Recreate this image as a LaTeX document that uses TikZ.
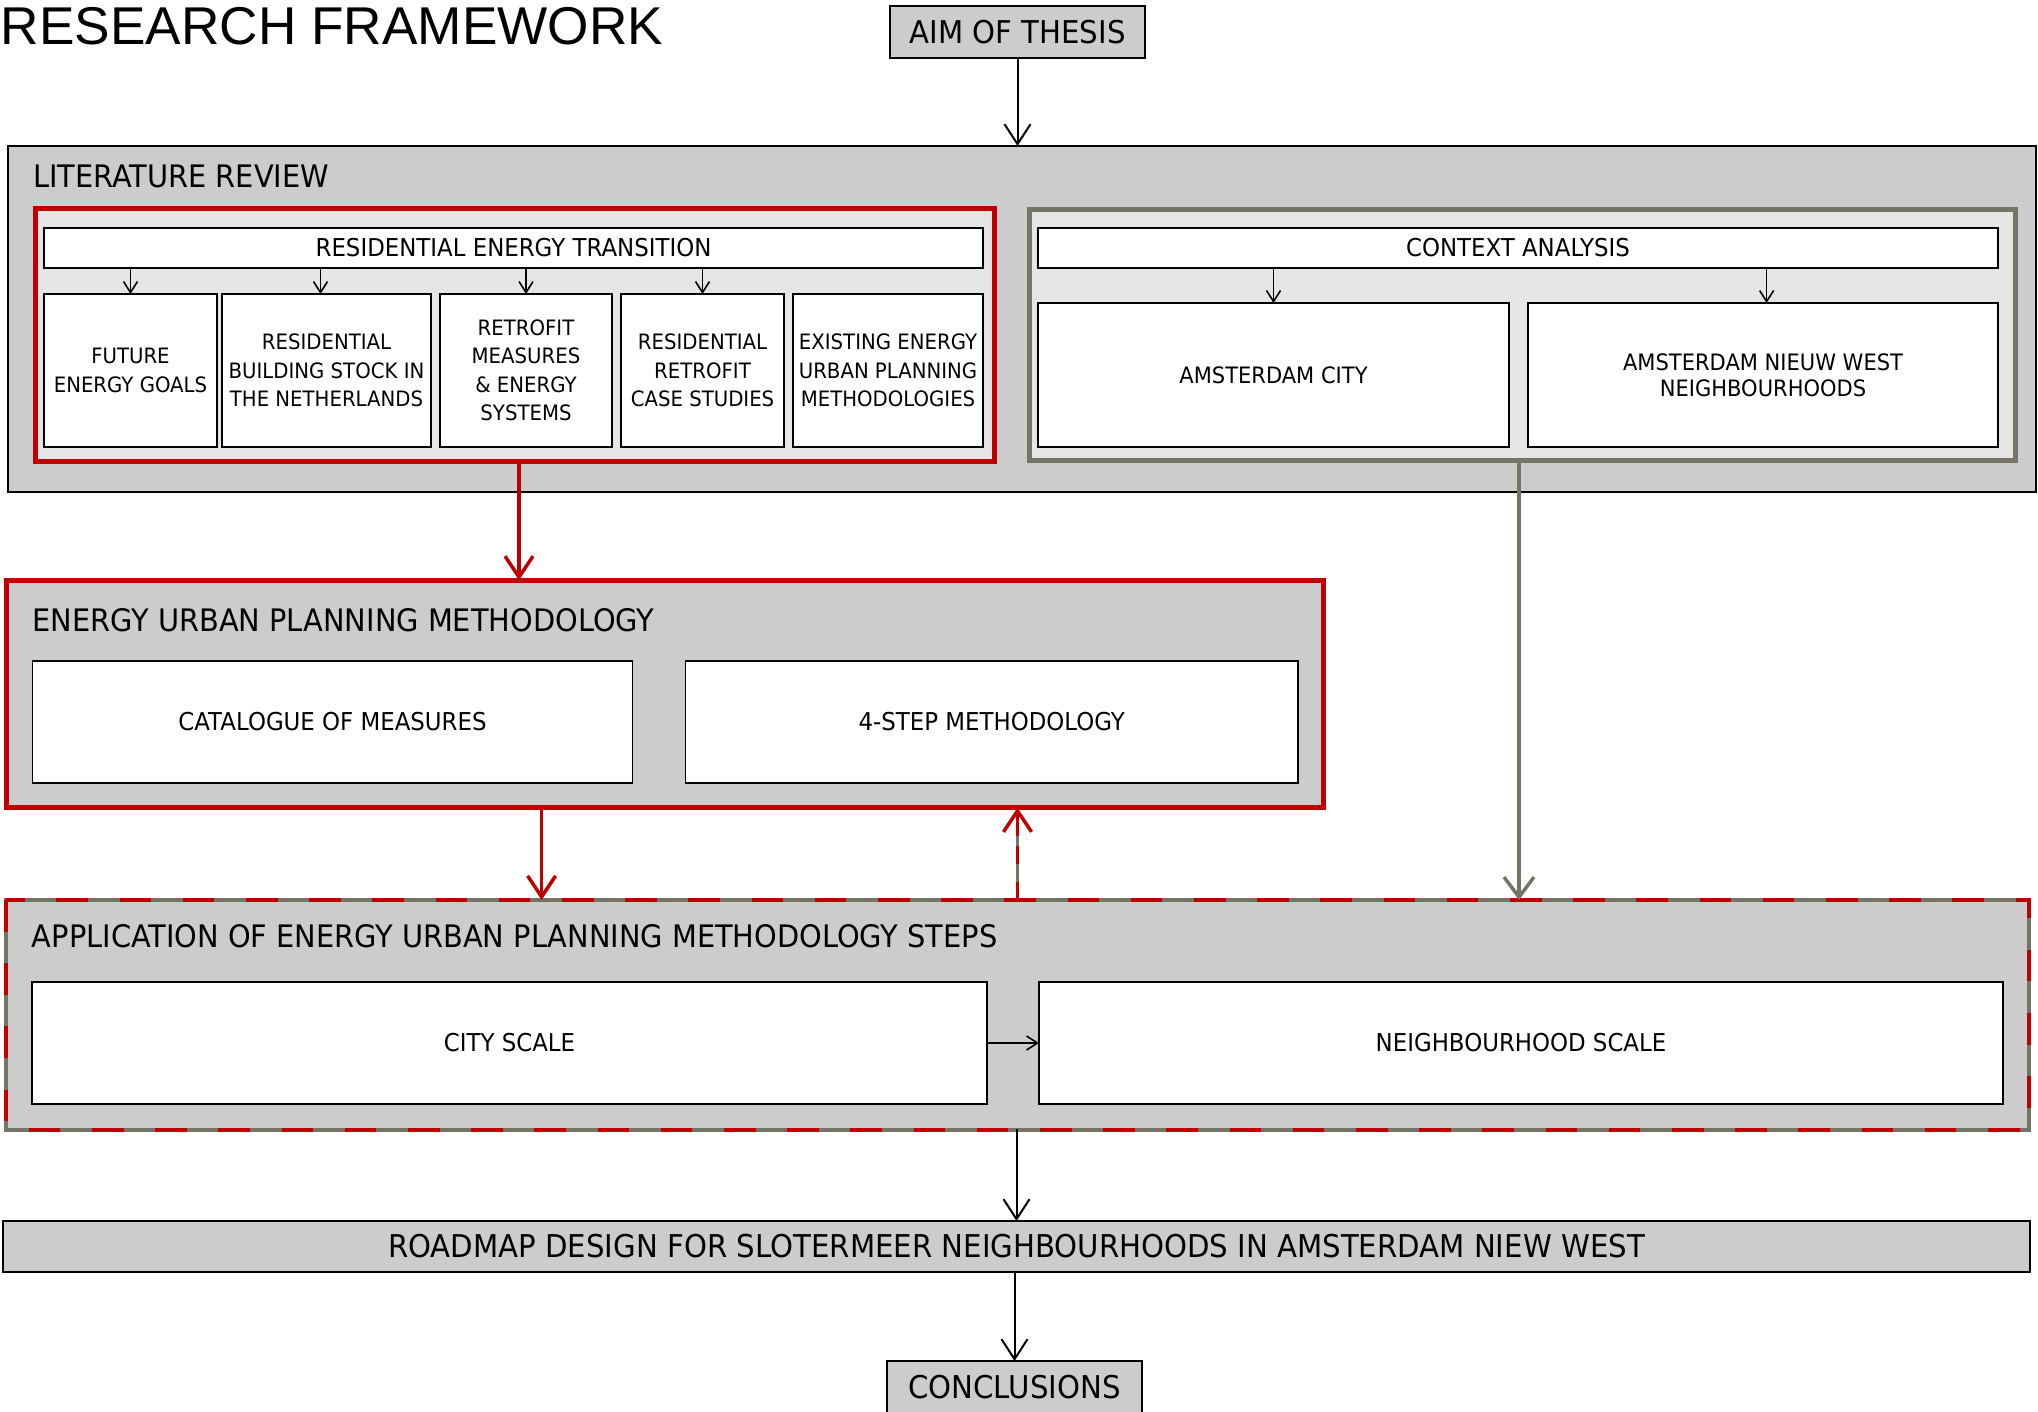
\documentclass[tikz,border=0pt]{standalone}
\usepackage{fontspec}
\setmainfont{DejaVu Sans}[FakeStretch=0.93]
\newfontfamily\titlefont{Liberation Sans}
\usetikzlibrary{arrows.meta,calc}
\definecolor{fwred}{RGB}{192,0,0}
\definecolor{fwgray}{RGB}{118,116,101}
\definecolor{boxgray}{RGB}{204,204,204}
\definecolor{paleg}{RGB}{229,229,229}
\newcommand\fsz[2]{\fontsize{#1}{#2}\selectfont}
\begin{document}
\begin{tikzpicture}[x=0.5pt,y=-0.5pt,
  every node/.style={inner sep=0pt,outer sep=0pt},
  rect/.style args={#1/#2/#3/#4}{minimum width={(#3-#1)*0.5pt},minimum height={(#4-#2)*0.5pt},at={({(#1+#3)/2},{(#2+#4)/2})}},
  graybox/.style={draw=black,line width=1pt,fill=boxgray,align=center},
  whitebox/.style={draw=black,line width=0.9pt,fill=white,align=center},
  redgroup/.style={draw=fwred,line width=2.35pt,fill=paleg},
  graygroup/.style={draw=fwgray,line width=2.35pt,fill=paleg},
  headtext/.style={anchor=base west,font=\fsz{15.5pt}{18pt}},
  midtext/.style={font=\fsz{12.3pt}{15pt}},
  subtext/.style={font=\fsz{10.6pt}{14.25pt}},
  ctxtext/.style={font=\fsz{11.3pt}{13pt}},
  bigtext/.style={font=\fsz{15.7pt}{18pt}},
  blackarrow/.style={draw=black,line width=1pt,-{Straight Barb[length=10pt,width=13pt]}},
  smallarrow/.style={draw=black,line width=0.8pt,-{Straight Barb[length=5.5pt,width=7pt]}},
  redarrow/.style={draw=fwred,line width=1.75pt,-{Straight Barb[length=10.5pt,width=14pt]}},
  grayarrow/.style={draw=fwgray,line width=1.75pt,-{Straight Barb[length=10pt,width=15pt]}},
]
\useasboundingbox (0,0) rectangle (2038,1412);

% title
\node[anchor=base west,font=\titlefont\fsz{26.6pt}{30pt}] (title) at (1,45) {RESEARCH FRAMEWORK};

% aim
\node[graybox,bigtext,rect=890/6/1145/58] (aim) {AIM OF THESIS};

% literature review
\node[graybox,rect=8/146/2036/492] (lit) {};
\node[headtext] (littitle) at (33,188) {LITERATURE REVIEW};

\node[redgroup,rect=35.3/208.3/994.7/461.7] (redgrp) {};
\node[whitebox,midtext,rect=44/228/983/268] (ret) {RESIDENTIAL ENERGY TRANSITION};
\node[whitebox,subtext,rect=44/294/217/447] (b1) {FUTURE\\ENERGY GOALS};
\node[whitebox,subtext,rect=222/294/431/447] (b2) {RESIDENTIAL\\BUILDING STOCK IN\\THE NETHERLANDS};
\node[whitebox,subtext,rect=440/294/612/447] (b3) {RETROFIT\\MEASURES\\\& ENERGY\\SYSTEMS};
\node[whitebox,subtext,rect=621/294/784/447] (b4) {RESIDENTIAL\\RETROFIT\\CASE STUDIES};
\node[whitebox,subtext,rect=793/294/983/447] (b5) {EXISTING ENERGY\\URBAN PLANNING\\METHODOLOGIES};
\foreach \b in {b1,b3,b4}
  \draw[smallarrow] (ret.south -| \b.north) -- (\b.north);
\draw[smallarrow] ([xshift=-3pt]ret.south -| b2.north) -- ([xshift=-3pt]b2.north);

\node[graygroup,rect=1029.3/209.3/2015.7/460.7] (ctxgrp) {};
\node[whitebox,midtext,rect=1038/228/1998/268] (ctx) {CONTEXT ANALYSIS};
\node[whitebox,ctxtext,rect=1038/303/1509/447] (ams) {AMSTERDAM CITY};
\node[whitebox,ctxtext,rect=1528/303/1998/447] (nw) {AMSTERDAM NIEUW WEST\\NEIGHBOURHOODS};
\draw[smallarrow] (ctx.south -| ams.north) -- (ams.north);
\draw[smallarrow] ([xshift=1.8pt]ctx.south -| nw.north) -- ([xshift=1.8pt]nw.north);

% energy urban planning methodology
\node[fill=boxgray,draw=fwred,line width=2.35pt,rect=6.3/580.3/1323.7/807.7] (eup) {};
\node[headtext] (euptitle) at (32.5,631) {ENERGY URBAN PLANNING METHODOLOGY};
\node[whitebox,midtext,rect=32.5/661/632.5/783] (cat) {CATALOGUE OF MEASURES};
\node[whitebox,midtext,rect=685.5/661/1298/783] (four) {4-STEP METHODOLOGY};

% application
\node[fill=boxgray,draw=fwgray,line width=2.35pt,rect=6/900/2029/1130] (app) {};
\draw[fwred,line width=2.35pt,dash pattern=on 15.8pt off 15.8pt] (app.north west) rectangle (app.south east);
\node[headtext] (apptitle) at (32,947) {APPLICATION OF ENERGY URBAN PLANNING METHODOLOGY STEPS};
\node[whitebox,midtext,rect=32/982/987/1104] (city) {CITY SCALE};
\node[whitebox,midtext,rect=1039/982/2003/1104] (neigh) {NEIGHBOURHOOD SCALE};
\draw[smallarrow] (city.east) -- (neigh.west);

% roadmap and conclusions
\node[graybox,bigtext,rect=3/1221/2030/1272] (road) {ROADMAP DESIGN FOR SLOTERMEER NEIGHBOURHOODS IN AMSTERDAM NIEW WEST};
\node[graybox,bigtext,rect=887/1361/1142/1413] (concl) {CONCLUSIONS};

% connectors
\draw[blackarrow] (aim.south) -- (aim.south |- lit.north);
\draw[redarrow] ([xshift=2pt]redgrp.south) -- ([xshift=2pt]redgrp.south |- eup.north);
\draw[grayarrow] ([xshift=-1.75pt]ctxgrp.south) -- ([xshift=-1.75pt]ctxgrp.south |- app.north);
\draw[redarrow] ([xshift=-61.7pt]eup.south) -- ([xshift=-61.7pt]eup.south |- app.north);
\draw[redarrow] (app.north) -- (app.north |- eup.south);
\draw[fwgray,line width=1.75pt,dash pattern=on 9pt off 9pt,dash phase=9pt] (app.north) -- ([yshift=-14pt]app.north |- eup.south);
\draw[blackarrow] (app.south) -- (app.south -| road.north) -- (road.north);
\draw[blackarrow] (road.south) -- (road.south -| concl.north) -- (concl.north);
\end{tikzpicture}
\end{document}
